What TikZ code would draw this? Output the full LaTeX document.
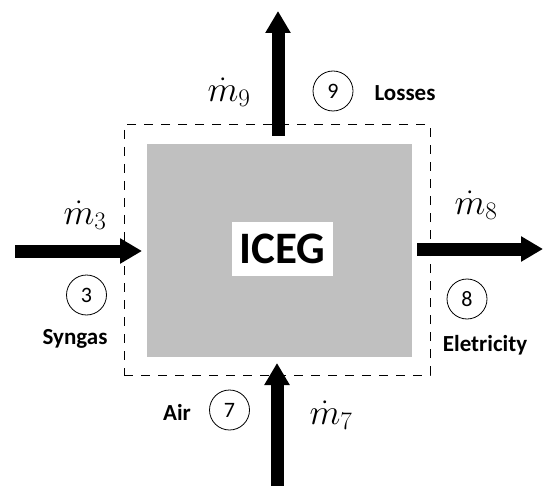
\RequirePackage{fix-cm}
\documentclass[tikz,border=0pt]{standalone}
\usepackage{fontspec}
\setmainfont{Carlito}
\usetikzlibrary{arrows.meta}
\definecolor{boxgray}{HTML}{C0C0C0}
\begin{document}
\begin{tikzpicture}[x=1pt,y=-1pt,
  flow/.style={line width=13pt,-{Triangle[width=24pt,length=22pt]}},
  numc/.style={circle,draw,line width=0.8pt,minimum size=40pt,inner sep=0pt,font=\fontsize{22}{22}\selectfont},
  lbl/.style={font=\bfseries\fontsize{23}{23}\selectfont},
  mlab/.style={font=\fontsize{36}{36}\selectfont},
  sysbox/.style={draw,dash pattern=on 9pt off 8pt,line width=1pt,minimum width=306pt,minimum height=250pt,inner sep=0pt},
  unit/.style={fill=boxgray,minimum width=265pt,minimum height=213pt,inner sep=0pt},
  title/.style={fill=white,minimum width=101pt,minimum height=54pt,inner sep=0pt,font=\bfseries\fontsize{45}{45}\selectfont}]
\useasboundingbox (0,0) rectangle (545,486);
\fill[white] (0,0) rectangle (545,486);
\node[sysbox] (sys) at (277,250) {};
\node[unit] (iceg) at (279.5,250.5) {};
\node[title] (name) at (282.5,249) {ICEG};
% arrows
\coordinate (in3) at (15,251);
\coordinate (tip3) at (142,251);
\draw[flow] (in3) -- (tip3);
\coordinate (out8s) at (417,249);
\coordinate (out8) at (543,249);
\draw[flow] (out8s) -- (out8);
\coordinate (out9s) at (278,136);
\coordinate (out9) at (278,11);
\draw[flow] (out9s) -- (out9);
\coordinate (in7) at (277,486);
\coordinate (tip7) at (277,363);
\draw[flow] (in7) -- (tip7);
% circles
\node[numc] (c9) at (333,91) {9};
\node[numc] (c3) at (86.5,295) {3};
\node[numc] (c8) at (467,299) {8};
\node[numc] (c7) at (229.5,410) {7};
% flow labels
\node[mlab] (m9) at (229,92) {$\dot{m}_9$};
\node[mlab] (m3) at (85,215) {$\dot{m}_3$};
\node[mlab] (m8) at (476,205) {$\dot{m}_8$};
\node[mlab] (m7) at (331,415) {$\dot{m}_7$};
% names
\node[lbl] (losses) at (405,93) {Losses};
\node[lbl] (syngas) at (75,339) {Syngas};
\node[lbl] (elec) at (485,345) {Eletricity};
\node[lbl] (air) at (177,412) {Air};
\end{tikzpicture}
\end{document}
